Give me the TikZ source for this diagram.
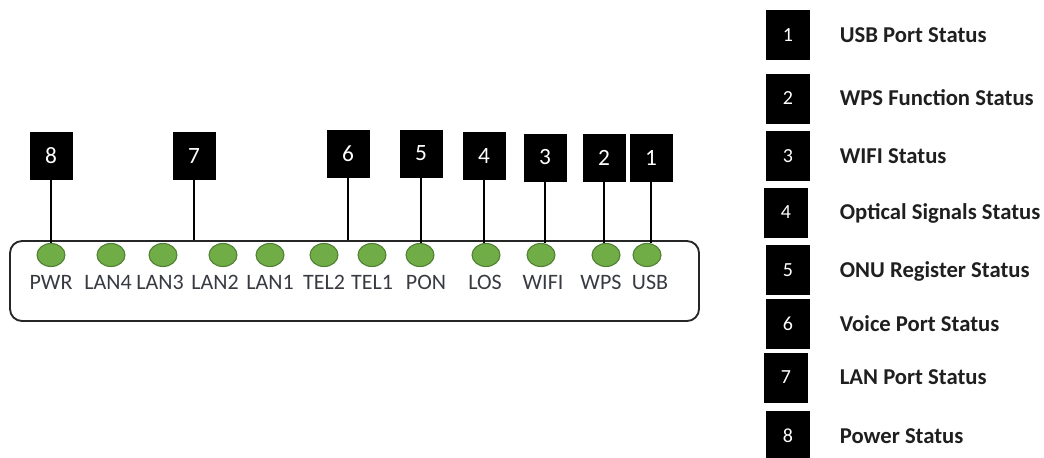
\documentclass[tikz,border=0pt]{standalone}
\usepackage{fontspec}
\setmainfont{Carlito}
\usepackage{tikz}
\usetikzlibrary{shapes,arrows,positioning}
\definecolor{ledgreen}{RGB}{112, 173, 71}
\definecolor{ledline}{RGB}{80, 126, 50}
\definecolor{labelgray}{RGB}{55, 58, 64}
\tikzstyle{device} = [rectangle, draw=black!85, line width=1.4pt, rounded corners=9pt, minimum width=516.75pt, minimum height=60pt]
\tikzstyle{led} = [ellipse, draw=ledline, line width=0.8pt, fill=ledgreen, minimum width=21pt, minimum height=17.25pt, inner sep=0pt]
\tikzstyle{ledlabel} = [draw=none, fill=none, inner sep=0pt, text height=10.6pt, text depth=0pt, text=labelgray, font=\fontsize{16.5}{16.5}\selectfont]
\tikzstyle{numbox} = [rectangle, fill=black, text=white, minimum width=32.25pt, minimum height=36pt, inner sep=0pt, font=\fontsize{17.5}{17.5}\selectfont]
\tikzstyle{legbox} = [rectangle, fill=black, text=white, minimum width=33pt, minimum height=37.5pt, inner sep=0pt, font=\fontsize{15}{15}\selectfont]
\tikzstyle{legtext} = [draw=none, fill=none, inner sep=0pt, text height=11pt, text depth=0pt, text=black!88, font=\bfseries\fontsize{17}{17}\selectfont]
\tikzstyle{tedge} = [draw, line width=2pt]

\begin{document}
\begin{tikzpicture}[x=0.75pt, y=-0.75pt]
\useasboundingbox (0,0) rectangle (1044,457);

% device =============================
\node[device] (device) at (354.5,281) {};

% leds
\node[led] (pwr) at (51,255) {};
\node[led] (lan4) at (111,255) {};
\node[led] (lan3) at (163,255) {};
\node[led] (lan2) at (223,255) {};
\node[led] (lan1) at (270,255) {};
\node[led] (tel2) at (324,255) {};
\node[led] (tel1) at (372,255) {};
\node[led] (pon) at (420,255) {};
\node[led] (los) at (486,255) {};
\node[led] (wifi) at (541,255) {};
\node[led] (wps) at (606,255) {};
\node[led] (usb) at (647,255) {};

% led labels
\node[ledlabel, below=6.4pt of pwr] (lpwr) {PWR};
\node[ledlabel, below=6.4pt of lan4, xshift=-2.25pt] (llan4) {LAN4};
\node[ledlabel, below=6.4pt of lan3, xshift=-2.25pt] (llan3) {LAN3};
\node[ledlabel, below=6.4pt of lan2, xshift=-6pt] (llan2) {LAN2};
\node[ledlabel, below=6.4pt of lan1] (llan1) {LAN1};
\node[ledlabel, below=6.4pt of tel2] (ltel2) {TEL2};
\node[ledlabel, below=6.4pt of tel1] (ltel1) {TEL1};
\node[ledlabel, below=6.4pt of pon, xshift=4.5pt] (lpon) {PON};
\node[ledlabel, below=6.4pt of los, xshift=-0.75pt] (llos) {LOS};
\node[ledlabel, below=6.4pt of wifi, xshift=1.5pt] (lwifi) {WIFI};
\node[ledlabel, below=6.4pt of wps, xshift=-3.75pt] (lwps) {WPS};
\node[ledlabel, below=6.4pt of usb, xshift=2.25pt] (lusb) {USB};

% number boxes =============================
\node[numbox] (b8) at (51,156) {8};
\node[numbox] (b7) at (194,156) {7};
\node[numbox] (b6) at (348,154) {6};
\node[numbox] (b5) at (421,153.5) {5};
\node[numbox] (b4) at (484,156) {4};
\node[numbox] (b3) at (545,157.5) {3};
\node[numbox] (b2) at (604,157.5) {2};
\node[numbox] (b1) at (651,157.5) {1};

% legend =============================
\node[legbox] (lb1) at (788,35) {1};
\node[legbox] (lb2) at (788,98.5) {2};
\node[legbox] (lb3) at (788,156) {3};
\node[legbox] (lb4) at (786,212.5) {4};
\node[legbox] (lb5) at (788,270) {5};
\node[legbox] (lb6) at (788,324) {6};
\node[legbox] (lb7) at (786,377.5) {7};
\node[legbox] (lb8) at (788,436) {8};

\node[legtext, right=22pt of lb1] (t1) {USB Port Status};
\node[legtext, right=22pt of lb2] (t2) {WPS Function Status};
\node[legtext, right=22pt of lb3] (t3) {WIFI Status};
\node[legtext, right=23.5pt of lb4] (t4) {Optical Signals Status};
\node[legtext, right=22pt of lb5] (t5) {ONU Register Status};
\node[legtext, right=22pt of lb6] (t6) {Voice Port Status};
\node[legtext, right=23.5pt of lb7] (t7) {LAN Port Status};
\node[legtext, right=22pt of lb8] (t8) {Power Status};

%edges
\path[tedge] (b8.south) -- (b8.south |- pwr.north);
\path[tedge] (b7.south) -- (b7.south |- device.north);
\path[tedge] (b6.south) -- (b6.south |- device.north);
\path[tedge] (b5.south) -- (b5.south |- pon.north);
\path[tedge] (b4.south) -- (b4.south |- los.north);
\path[tedge] (b3.south) -- (b3.south |- wifi.north);
\path[tedge] (b2.south) -- (b2.south |- wps.north);
\path[tedge] (b1.south) -- (b1.south |- usb.north);

\end{tikzpicture}
\end{document}
